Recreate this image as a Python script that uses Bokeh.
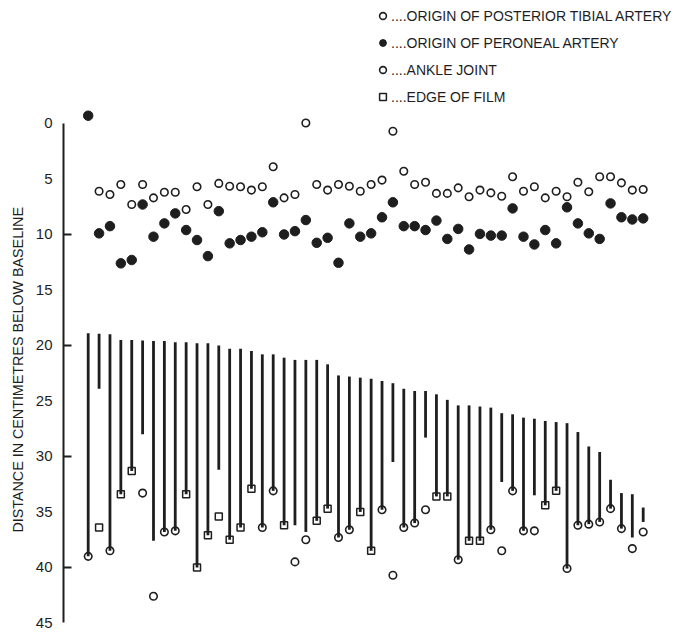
import numpy as np
from bokeh.plotting import figure
from bokeh.models import Range1d, FixedTicker, Legend, LegendItem, ColumnDataSource, Title
from bokeh.embed import file_html
from bokeh.resources import INLINE

nan = float("nan")

# ---- data ----
cases = list(range(1, 53))

post_tibial_origin = [nan, 6.1, 6.4, 5.5, 7.3, 5.5, 6.7, 6.2, 6.2, 7.75, 5.7, 7.3, 5.4, 5.65, 5.7, 6.0, 5.7,
                      3.9, 6.7, 6.4, -0.05, 5.5, 6.0, 5.5, 5.65, 6.1, 5.5, 5.1, 0.7, 4.3, 5.5, 5.3, 6.3, 6.3, 5.8, 6.6,
                      6.0, 6.25, 6.55, 4.8, 6.1, 5.7, 6.7, 6.1, 6.6, 5.3, 6.15, 4.8, 4.8, 5.35, 6.0, 5.95]

peroneal_origin = [-0.7, 9.9, 9.25, 12.6, 12.3, 7.3, 10.2, 9.0, 8.1, 9.6, 10.5, 11.95, 7.9, 10.8, 10.5, 10.2, 9.8,
                   7.1, 10.0, 9.7, 8.7, 10.75, 10.3, 12.55, 9.0, 10.2, 9.9, 8.45, 7.1, 9.25, 9.25, 9.6, 8.75, 10.4, 9.5, 11.35,
                   9.95, 10.1, 10.1, 7.65, 10.2, 10.9, 9.6, 10.8, 7.55, 9.0, 9.9, 10.4, 7.2, 8.45, 8.65, 8.55]

bar_top = [18.9, 18.95, 19.0, 19.5, 19.5, 19.55, 19.6, 19.6, 19.7, 19.7, 19.8, 19.8, 20.0, 20.3, 20.3, 20.5, 20.8,
           20.8, 21.1, 21.3, 21.3, 21.3, 21.7, 22.7, 22.8, 22.9, 23.0, 23.2, 23.4, 23.9, 24.1, 24.1, 24.4, 24.9, 25.4, 25.4,
           25.5, 25.6, 26.1, 26.2, 26.5, 26.6, 26.8, 26.9, 27.0, 27.8, 29.1, 29.6, 32.1, 33.3, 33.4, 34.6]

bar_bottom = [39.0, 23.9, 38.5, 33.4, 31.3, 28.0, 37.6, 36.8, 36.7, 33.4, 40.0, 37.1, 31.2, 37.5, 36.4, 32.9, 36.4,
              33.1, 36.2, 36.2, 36.8, 35.8, 34.7, 37.3, 36.6, 35.0, 38.5, 34.8, 30.5, 36.4, 36.0, 28.3, 33.6, 33.6, 39.3, 37.6,
              37.6, 36.6, 32.3, 33.1, 36.7, 33.5, 34.4, 33.1, 40.1, 36.2, 36.1, 35.9, 34.7, 36.5, 37.3, 35.9]

ankle_joint = [39.0, nan, 38.5, nan, nan, 33.3, 42.6, 36.8, 36.7, nan, nan, nan, nan, nan, nan, nan, 36.4,
               33.1, nan, 39.5, 37.5, nan, nan, 37.3, 36.6, nan, nan, 34.8, 40.7, 36.4, 36.0, 34.8, nan, nan, 39.3, nan,
               nan, 36.6, 38.5, 33.1, 36.7, 36.7, nan, nan, 40.1, 36.2, 36.1, 35.9, 34.7, 36.5, 38.3, 36.8]

edge_of_film = [nan, 36.4, nan, 33.4, 31.3, nan, nan, nan, nan, 33.4, 40.0, 37.1, 35.4, 37.5, 36.4, 32.9, nan,
                nan, 36.2, nan, nan, 35.8, 34.7, nan, nan, 35.0, 38.5, nan, nan, nan, nan, nan, 33.6, 33.6, nan, 37.6,
                37.6, nan, nan, nan, nan, nan, 34.4, 33.1, nan, nan, nan, nan, nan, nan, nan, nan]

y_tick_labels = [0, 5, 10, 15, 20, 25, 30, 35, 40, 45]
y_tick_marks = [10, 20, 30, 40]
y_axis_title = "DISTANCE IN CENTIMETRES BELOW BASELINE"

legend_labels = ["....ORIGIN OF POSTERIOR TIBIAL ARTERY",
                 "....ORIGIN OF PERONEAL ARTERY",
                 "....ANKLE JOINT",
                 "....EDGE OF FILM"]

# ---- figure ----
INK = "#1e1e1e"
FONT = "Liberation Sans"
W, H = 676, 630
LEFT = 62
PX_PER_X = 10.9

x_rng = Range1d(-1.27, -1.27 + (W - LEFT) / PX_PER_X)
y_rng = Range1d(45.68, -11.08)

src = ColumnDataSource(dict(case=cases, pt=post_tibial_origin, per=peroneal_origin,
                            top=bar_top, bot=bar_bottom, ankle=ankle_joint, film=edge_of_film))

p = figure(width=W, height=H, x_range=x_rng, y_range=y_rng,
           toolbar_location=None, output_backend="svg", x_axis_location=None,
           min_border_left=LEFT, min_border_right=0, min_border_top=0, min_border_bottom=0)
p.outline_line_color = None
p.grid.visible = False
p.background_fill_color = "white"

ax = p.yaxis[0]
ax.ticker = FixedTicker(ticks=y_tick_labels)
ax.bounds = (y_tick_labels[0], y_tick_labels[-1])
ax.major_tick_in = 0
ax.major_tick_out = 0
ax.minor_tick_in = 0
ax.minor_tick_out = 0
ax.axis_line_width = 2
ax.axis_line_color = INK
ax.major_label_standoff = 11
ax.major_label_text_font = FONT
ax.major_label_text_font_size = "15px"
ax.major_label_text_color = INK

# axis title placed along the drawn part of the axis (0..45)
p.add_layout(Title(text=y_axis_title, align="left", offset=98, standoff=14,
                   text_font=FONT, text_font_size="14.3px", text_font_style="normal",
                   text_color=INK), "left")

# tick marks only at 10, 20, 30, 40 pointing into the plot
p.ray(x=[x_rng.start] * len(y_tick_marks), y=y_tick_marks, length=8, length_units="screen",
      angle=0, line_width=2, line_color=INK)

# vertical bars
p.segment(x0="case", y0="top", x1="case", y1="bot", source=src, line_width=2.8, line_color=INK)

r_pt = p.scatter("case", "pt", source=src, marker="circle", size=7.5, fill_color=None,
                 line_color=INK, line_width=1.6)
r_per = p.scatter("case", "per", source=src, marker="circle", size=9.5, fill_color=INK,
                  line_color=INK, line_width=1)
r_ankle = p.scatter("case", "ankle", source=src, marker="circle", size=7.5, fill_color=None,
                    line_color=INK, line_width=1.6)
r_film = p.scatter("case", "film", source=src, marker="square", size=7, fill_color=None,
                   line_color=INK, line_width=1.5)

legend = Legend(items=[LegendItem(label=legend_labels[0], renderers=[r_pt]),
                       LegendItem(label=legend_labels[1], renderers=[r_per]),
                       LegendItem(label=legend_labels[2], renderers=[r_ankle]),
                       LegendItem(label=legend_labels[3], renderers=[r_film])],
                location=(311, 525), orientation="vertical",
                glyph_width=17, glyph_height=17, label_height=17, label_standoff=0,
                spacing=10, padding=0, margin=0,
                label_text_font=FONT, label_text_font_size="14px", label_text_color=INK,
                border_line_color=None, background_fill_alpha=0)
p.add_layout(legend)

open("out.html", "w").write(file_html(p, INLINE))
